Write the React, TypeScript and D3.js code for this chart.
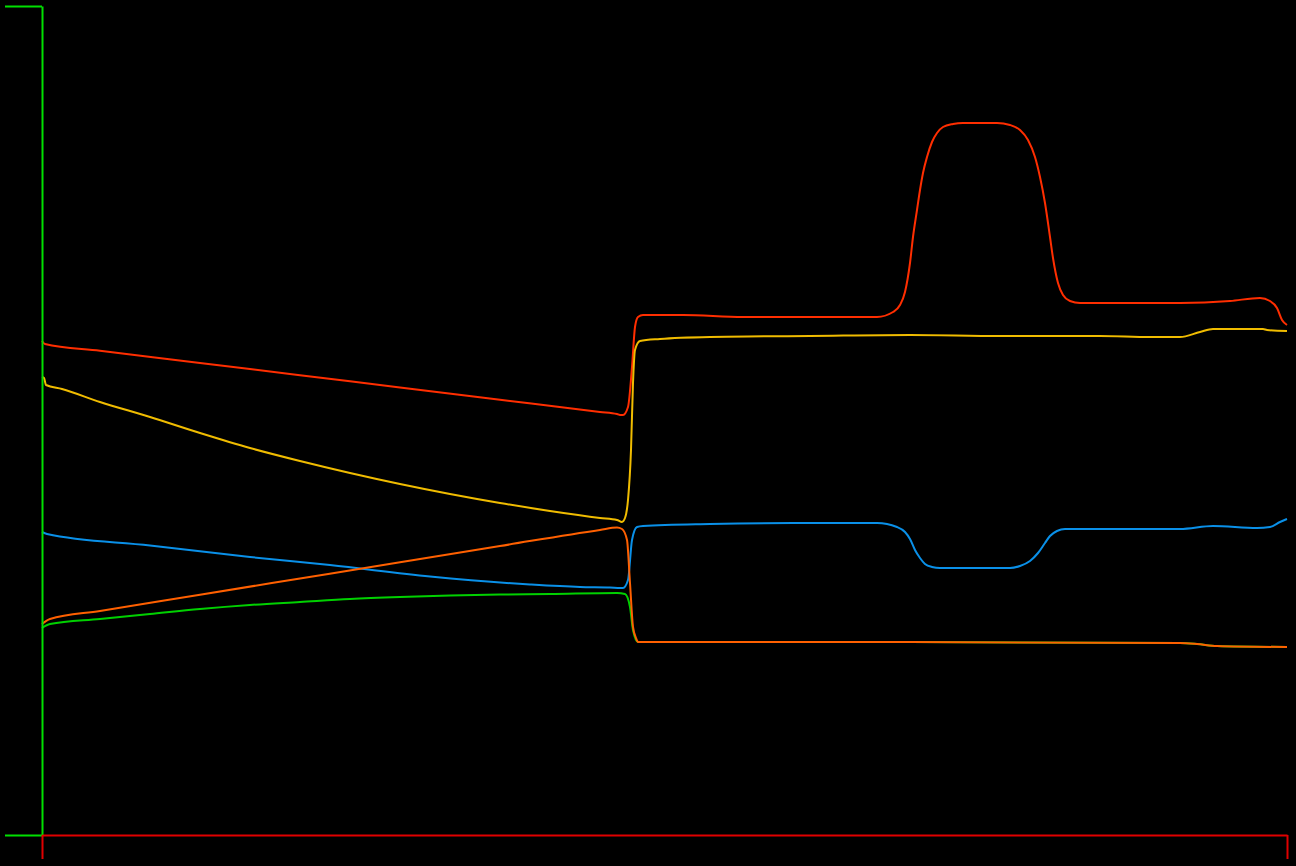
import React, { useEffect, useRef } from 'react';
import * as d3 from 'd3';

// time (t) and value (v) readings, one list per trace
const redTrace: [number, number][] = [
  [0, 49.4], [3, 49.1], [58, 48.43], [158, 47.2], [258, 45.98], [358, 44.75], [458, 43.53],
  [558, 42.31], [575, 42.1], [578, 42.0], [581, 42.0], [586, 42.8],
  [590, 46.8], [593, 50.8], [596, 51.8], [601, 52.0], [641, 52.0], [701, 51.8], [768, 51.8],
  [835, 51.8], [851, 52.3], [858, 53.0], [863, 54.3], [868, 57.2], [871, 59.8], [875, 62.5],
  [878, 64.5], [881, 66.2], [885, 67.8], [890, 69.3], [895, 70.2], [901, 70.8], [911, 71.1],
  [921, 71.2], [955, 71.2], [968, 71.0], [978, 70.5], [986, 69.5], [993, 67.8], [998, 65.8],
  [1003, 63.2], [1008, 59.8], [1011, 57.7], [1016, 55.2], [1021, 54.0], [1028, 53.4],
  [1038, 53.2], [1138, 53.2], [1188, 53.4], [1218, 53.7], [1228, 53.4], [1235, 52.7],
  [1240, 51.5], [1245, 51.0],
];

const yellowTrace: [number, number][] = [
  [0, 45.8], [2, 45.7], [4, 45.0], [20, 44.6], [58, 43.3], [108, 41.8], [158, 40.2], [208, 38.7],
  [258, 37.4], [308, 36.2], [358, 35.1], [408, 34.1], [458, 33.2], [508, 32.4], [558, 31.7],
  [575, 31.5], [580, 31.3], [583, 31.7], [586, 33.5], [589, 38.5], [591, 45.2],
  [593, 48.5], [598, 49.4], [618, 49.6], [668, 49.8], [768, 49.9], [868, 50.0], [958, 49.9],
  [1058, 49.9], [1108, 49.8], [1138, 49.8], [1158, 50.3], [1171, 50.6], [1221, 50.6],
  [1225, 50.5], [1245, 50.4],
];

const blueTrace: [number, number][] = [
  [0, 30.3], [5, 30.1], [108, 28.95], [208, 27.8], [288, 27.0], [388, 25.85], [488, 25.05],
  [538, 24.8], [568, 24.75], [578, 24.7], [581, 24.7], [586, 25.5], [590, 29.5], [595, 30.8],
  [601, 30.9], [668, 31.1], [751, 31.2], [835, 31.2], [855, 30.8], [863, 30.3], [868, 29.6],
  [873, 28.5], [878, 27.7], [883, 27.1], [890, 26.8], [898, 26.7], [968, 26.7], [978, 26.9],
  [988, 27.4], [996, 28.2], [1003, 29.2], [1008, 29.9], [1015, 30.4], [1023, 30.6],
  [1038, 30.6], [1138, 30.6], [1171, 30.9], [1215, 30.7], [1228, 30.8], [1238, 31.3],
  [1245, 31.6],
];

const greenTrace: [number, number][] = [
  [0, 20.7], [8, 21.1], [58, 21.6], [108, 22.1], [158, 22.6], [208, 23.0], [258, 23.3],
  [308, 23.6], [358, 23.8], [408, 23.95], [458, 24.05], [508, 24.1], [575, 24.2], [583, 24.1],
  [588, 22.8], [591, 20.5], [596, 19.3], [868, 19.3], [1138, 19.2], [1155, 19.1],
  [1175, 18.9], [1245, 18.8],
];

const orangeTrace: [number, number][] = [
  [0, 21.1], [8, 21.6], [58, 22.4], [158, 24.03], [258, 25.65], [358, 27.27], [458, 28.9],
  [558, 30.51], [575, 30.75], [580, 30.6], [585, 29.5], [588, 25.2], [591, 20.8],
  [594, 19.7], [596, 19.3], [868, 19.3], [1138, 19.2], [1155, 19.1], [1175, 18.9],
  [1245, 18.8],
];

const traces = [
  { name: 'red', color: '#ff2e00', points: redTrace },
  { name: 'yellow', color: '#f0bc00', points: yellowTrace },
  { name: 'blue', color: '#0a90e8', points: blueTrace },
  { name: 'green', color: '#00d000', points: greenTrace },
  { name: 'orange', color: '#ff6000', points: orangeTrace },
];

const timeDomain = [0, 1245];
const valueDomain = [0, 82.9];

const App = () => {
  const chartRef = useRef<SVGSVGElement>(null);

  useEffect(() => {
    document.body.style.margin = '0';
    document.body.style.background = '#000';

    const width = 1296;
    const height = 866;

    const x = d3.scaleLinear().domain(timeDomain).range([42, 1287]);
    const y = d3.scaleLinear().domain(valueDomain).range([835, 6]);

    const svg = d3.select(chartRef.current);
    svg.selectAll('*').remove();
    svg.attr('width', width).attr('height', height);

    svg.append('rect').attr('width', width).attr('height', height).attr('fill', '#000');

    const line = d3.line<[number, number]>()
      .x(d => x(d[0]))
      .y(d => y(d[1]))
      .curve(d3.curveMonotoneX);

    traces.forEach(tr => {
      svg.append('path')
        .datum(tr.points)
        .attr('d', line)
        .attr('fill', 'none')
        .attr('stroke', tr.color)
        .attr('stroke-width', 2)
        .attr('stroke-linejoin', 'round');
    });

    // y axis (green), ticks only at the ends, no labels
    const yAxis = svg.append('g')
      .attr('transform', `translate(${x(timeDomain[0])},0)`)
      .call(d3.axisLeft(y).tickValues(valueDomain).tickSize(37).tickSizeOuter(0).tickFormat(() => ''));
    yAxis.selectAll('path, line').attr('stroke', '#00e000').attr('stroke-width', 2);

    // x axis (red)
    const xAxis = svg.append('g')
      .attr('transform', `translate(0,${y(valueDomain[0])})`)
      .call(d3.axisBottom(x).tickValues(timeDomain).tickSize(24).tickSizeOuter(0).tickFormat(() => ''));
    xAxis.selectAll('path, line').attr('stroke', '#e00000').attr('stroke-width', 2);

    return () => {
      svg.selectAll('*').remove();
    };
  }, []);

  return <svg ref={chartRef} style={{ display: 'block', position: 'absolute', left: 0, top: 0 }}></svg>;
};

export default App;
